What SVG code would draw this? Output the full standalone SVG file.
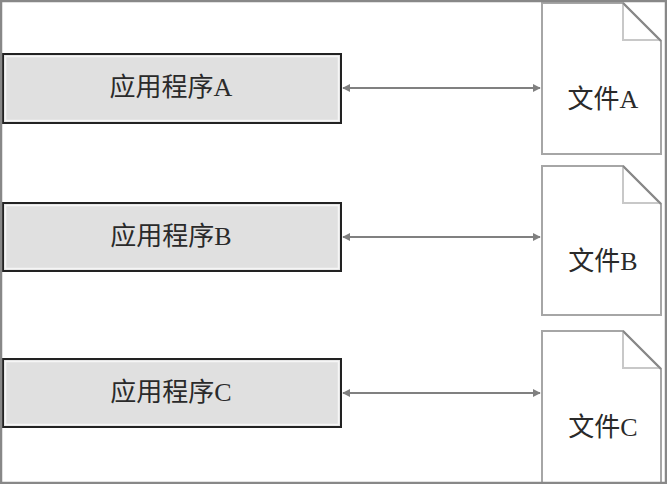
<svg xmlns="http://www.w3.org/2000/svg" width="667" height="484" viewBox="0 0 667 484">
<style>
.app{fill:#e0e0e0;stroke:#222;stroke-width:2}
.inner{fill:none;stroke:#f6f6f6;stroke-width:1.5}
.doc{fill:#fff;stroke:#a6a6a6;stroke-width:2}
.fold{fill:none;stroke:#c8c8c8;stroke-width:2}
.diag{stroke:#888;stroke-width:2}
.t{font-family:"Liberation Serif","Noto Sans CJK SC",serif;font-size:26px;fill:#2a2a2a;text-anchor:middle;dominant-baseline:central}
.conn{stroke:#808080;stroke-width:2;fill:none;marker-start:url(#ah);marker-end:url(#ah)}
</style>
<defs>
<marker id="ah" viewBox="0 0 10 10" refX="9" refY="5" markerWidth="4" markerHeight="4" orient="auto-start-reverse" markerUnits="strokeWidth">
<path d="M0,0 L10,5 L0,10 z" fill="#808080"/>
</marker>
</defs>
<rect x="0" y="0" width="667" height="484" fill="#fff"/>
<g id="appA"><rect class="app" x="3" y="54" width="338" height="69"/><rect class="inner" x="5.5" y="56.5" width="333" height="64"/><text class="t" x="171" y="87">应用程序A</text></g>
<g id="appB"><rect class="app" x="3" y="203" width="338" height="68"/><rect class="inner" x="5.5" y="205.5" width="333" height="63"/><text class="t" x="171" y="236">应用程序B</text></g>
<g id="appC"><rect class="app" x="3" y="359" width="338" height="68"/><rect class="inner" x="5.5" y="361.5" width="333" height="63"/><text class="t" x="171" y="392">应用程序C</text></g>
<g id="docA"><path class="doc" d="M542,3 H623 L661,41 V154 H542 Z"/><path class="fold" d="M623,4 V40 H660"/><line class="diag" x1="623" y1="3" x2="661" y2="41"/><text class="t" x="603" y="99">文件A</text></g>
<g id="docB"><path class="doc" d="M542,166 H623 L661,204 V315 H542 Z"/><path class="fold" d="M623,167 V203 H660"/><line class="diag" x1="623" y1="166" x2="661" y2="204"/><text class="t" x="603" y="261">文件B</text></g>
<g id="docC"><path class="doc" d="M542,331 H623 L661,369 V490 H542 Z"/><path class="fold" d="M623,332 V368 H660"/><line class="diag" x1="623" y1="331" x2="661" y2="369"/><text class="t" x="603" y="427">文件C</text></g>
<g id="connectors">
<line class="conn" x1="343" y1="88" x2="540" y2="88"/>
<line class="conn" x1="343" y1="237" x2="540" y2="237"/>
<line class="conn" x1="343" y1="393" x2="540" y2="393"/>
</g>
<rect x="1" y="1" width="665" height="482" fill="none" stroke="#888" stroke-width="2.5"/>
</svg>
